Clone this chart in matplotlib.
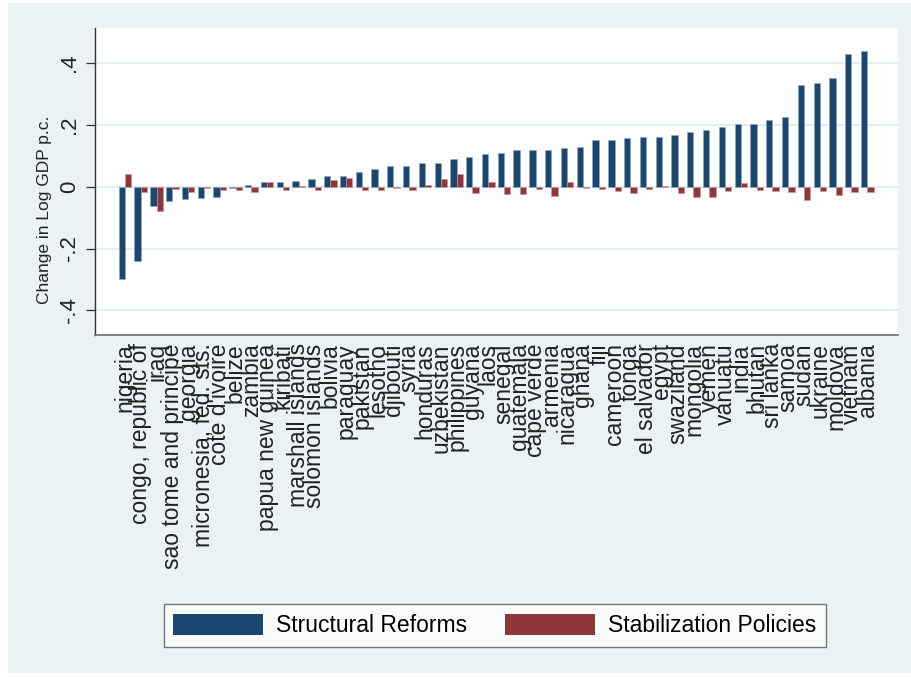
import numpy as np
import matplotlib
matplotlib.use('Agg')
import matplotlib.pyplot as plt
from matplotlib.patches import Rectangle, Patch

plt.rcParams['font.family'] = ['Liberation Sans', 'DejaVu Sans']

# Data
countries = [
    "nigeria", "congo, republic of", "iraq", "sao tome and principe", "georgia",
    "micronesia, fed. sts.", "cote d'ivoire", "belize", "zambia", "papua new guinea",
    "kiribati", "marshall islands", "solomon islands", "bolivia", "paraguay",
    "pakistan", "lesotho", "djibouti", "syria", "honduras", "uzbekistan",
    "philippines", "guyana", "laos", "senegal", "guatemala", "cape verde",
    "armenia", "nicaragua", "ghana", "fiji", "cameroon", "tonga", "el salvador",
    "egypt", "swaziland", "mongolia", "yemen", "vanuatu", "india", "bhutan",
    "sri lanka", "samoa", "sudan", "ukraine", "moldova", "vietnam", "albania",
]
structural = [
    -0.299, -0.239, -0.062, -0.047, -0.040, -0.035, -0.034, -0.005, 0.006, 0.015,
    0.015, 0.018, 0.026, 0.035, 0.035, 0.048, 0.058, 0.067, 0.067, 0.077,
    0.078, 0.090, 0.096, 0.106, 0.109, 0.119, 0.120, 0.120, 0.126, 0.129,
    0.152, 0.152, 0.158, 0.161, 0.162, 0.168, 0.177, 0.183, 0.195, 0.202,
    0.203, 0.215, 0.227, 0.329, 0.335, 0.351, 0.430, 0.439,
]
stabilization = [
    0.040, -0.016, -0.080, -0.008, -0.016, -0.004, -0.010, -0.012, -0.016, 0.016,
    -0.012, 0.004, -0.012, 0.023, 0.027, -0.012, -0.012, -0.005, -0.012, 0.006,
    0.026, 0.042, -0.020, 0.014, -0.023, -0.022, -0.006, -0.031, 0.014, -0.005,
    -0.006, -0.013, -0.020, -0.006, 0.004, -0.020, -0.034, -0.032, -0.014, 0.011,
    -0.010, -0.015, -0.016, -0.042, -0.015, -0.028, -0.016, -0.016,
]
yticks = [-0.4, -0.2, 0.0, 0.2, 0.4]
ytick_labels = ["-.4", "-.2", "0", ".2", ".4"]

navy = '#1a476f'
maroon = '#90353b'
bg = '#eaf2f3'

W, H = 911, 677
fig = plt.figure(figsize=(W / 100, H / 100), dpi=100)
fig.patch.set_facecolor('white')
fig.patches.append(Rectangle((8 / W, 4 / H), 903 / W, 670 / H, transform=fig.transFigure,
                             facecolor=bg, edgecolor='none', zorder=-1))

ax = fig.add_axes([95 / W, (H - 335) / H, (898 - 95) / W, (335 - 28) / H])
ax.set_facecolor('white')

x = np.arange(len(countries))
bw = 0.4
ax.bar(x - bw / 2, structural, width=bw, color=navy, edgecolor='#8fa6bd', linewidth=0.4, zorder=3)
ax.bar(x + bw / 2, stabilization, width=bw, color=maroon, edgecolor='#c79a9d', linewidth=0.4, zorder=3)

ax.set_xlim(-1.9, len(countries) - 1 + 1.95)
ax.set_ylim(-0.480, 0.514)

ax.set_yticks(yticks)
ax.set_yticklabels(ytick_labels, rotation=90, va='center', fontsize=16, color='#222222')
ax.yaxis.grid(True, color='#e3eef0', linewidth=1.5, zorder=0)
ax.xaxis.grid(False)
ax.tick_params(axis='y', length=6.5, width=0.9, color='#333333', pad=4)

ax.set_xticks(x)
ax.set_xticklabels(countries, rotation=90, ha='center', va='top', fontsize=16.5, color='#222222')
ax.tick_params(axis='x', length=0, pad=6)

for side in ['top', 'right']:
    ax.spines[side].set_visible(False)
ax.spines['left'].set_color('#333333')
ax.spines['left'].set_linewidth(1.0)
ax.spines['bottom'].set_color('#777777')
ax.spines['bottom'].set_linewidth(1.3)

fig.text(45 / W, (H - 210) / H, 'Change in Log GDP p.c.', rotation=90,
         ha='center', va='center', fontsize=12.5, color='#222222')

handles = [Patch(facecolor=navy, edgecolor='none', label='Structural Reforms'),
           Patch(facecolor=maroon, edgecolor='none', label='Stabilization Policies')]
leg = fig.legend(handles=handles, loc='center', ncol=2,
                 bbox_to_anchor=(495 / W, (H - 625.5) / H),
                 fontsize=16.5, frameon=True, fancybox=False,
                 handlelength=3.9, handleheight=1.05, handletextpad=0.6,
                 columnspacing=1.65, borderpad=0.42)
leg.get_frame().set_edgecolor('#555555')
leg.get_frame().set_linewidth(1.0)
leg.get_frame().set_facecolor('white')

fig.savefig('out.png', dpi=100)
